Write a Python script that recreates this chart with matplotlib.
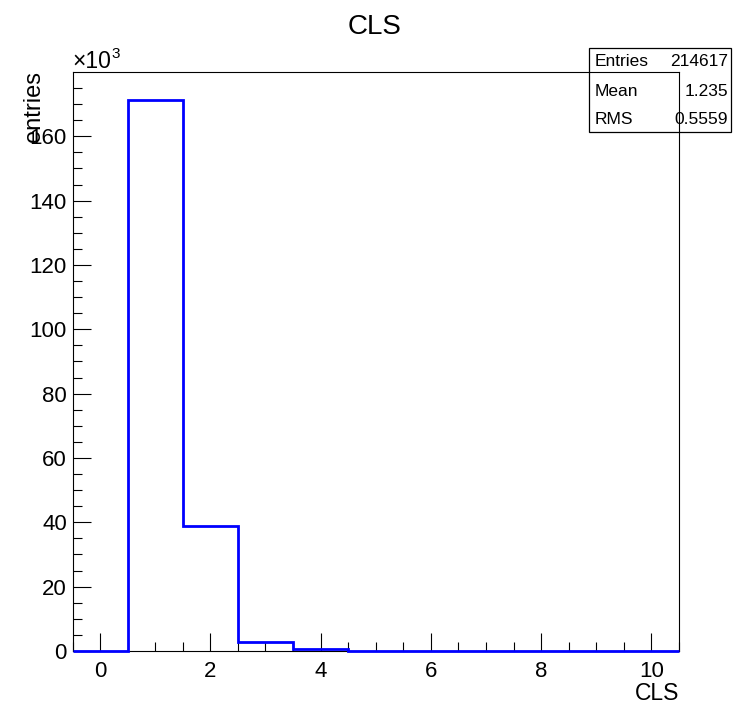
import numpy as np
import matplotlib
matplotlib.use("Agg")
import matplotlib.pyplot as plt
from matplotlib.ticker import MultipleLocator, FuncFormatter
from matplotlib.patches import Rectangle

plt.rcParams['font.family'] = ['Liberation Sans', 'DejaVu Sans']

# Cluster-size histogram: one bin per integer CLS value
bin_centers = [0, 1, 2, 3, 4, 5, 6, 7, 8, 9, 10]
counts = [0, 171400, 38850, 2900, 560, 60, 25, 10, 5, 3, 1]

stat_names = ["Entries", "Mean", "RMS"]
stat_values = ["214617", "1.235", "0.5559"]

W, H = 743, 722
fig = plt.figure(figsize=(W / 100, H / 100), dpi=100)
fig.patch.set_facecolor('white')


def fx(px):
    return px / W


def fy(py):
    return 1 - py / H


ax = fig.add_axes([fx(72.5), fy(651), fx(679) - fx(72.5), fy(72) - fy(651)])
ax.set_facecolor('none')

centers = np.asarray(bin_centers, dtype=float)
edges = np.append(centers - 0.5, centers[-1] + 0.5)
ax.stairs(counts, edges, color='#0000ff', lw=2.0, baseline=0,
          clip_on=False, zorder=3)

ax.set_xlim(edges[0], edges[-1])
ax.set_ylim(0, max(counts) * 1.05)

ax.xaxis.set_major_locator(MultipleLocator(2))
ax.xaxis.set_minor_locator(MultipleLocator(0.5))
ax.yaxis.set_major_locator(MultipleLocator(20000))
ax.yaxis.set_minor_locator(MultipleLocator(5000))
ax.yaxis.set_major_formatter(FuncFormatter(lambda v, p: f"{v / 1000:.0f}"))
ax.xaxis.set_major_formatter(FuncFormatter(lambda v, p: f"{v:.0f}"))

ax.tick_params(which='both', direction='in', top=False, right=False,
               width=0.8, color='black')
ax.tick_params(which='major', length=13, labelsize=16)
ax.tick_params(which='minor', length=6.5)
ax.tick_params(axis='x', which='major', pad=7)
ax.tick_params(axis='y', which='major', pad=4)
for s in ax.spines.values():
    s.set_linewidth(0.8)
    s.set_color('black')

# Titles
fig.text(fx(375), fy(27), "CLS", ha='center', va='center', fontsize=20)
fig.text(fx(679), fy(694), "CLS", ha='right', va='center', fontsize=16.5)
fig.text(fx(34), fy(71), "entries", rotation=90, ha='center', va='top',
         fontsize=17)

# Exponent marker above the y axis
t10 = fig.text(fx(72), fy(68), "\u00d710", ha='left', va='baseline',
               fontsize=16.5)
fig.canvas.draw()
bb = t10.get_window_extent()
fig.text(bb.x1 / W + 0.5 / W, fy(58), "3", ha='left', va='baseline',
         fontsize=11)

# Statistics box
box = Rectangle((fx(589), fy(132)), fx(731) - fx(589), fy(48) - fy(132),
                transform=fig.transFigure, facecolor='white',
                edgecolor='black', lw=0.9, zorder=-1)
fig.add_artist(box)
row_y = [61, 91, 120]
for name, val, y in zip(stat_names, stat_values, row_y):
    fig.text(fx(595), fy(y), name, ha='left', va='center', fontsize=12.5,
             zorder=-1)
    fig.text(fx(728), fy(y), val, ha='right', va='center', fontsize=12.5,
             zorder=-1)

fig.savefig("out.png", dpi=100)
